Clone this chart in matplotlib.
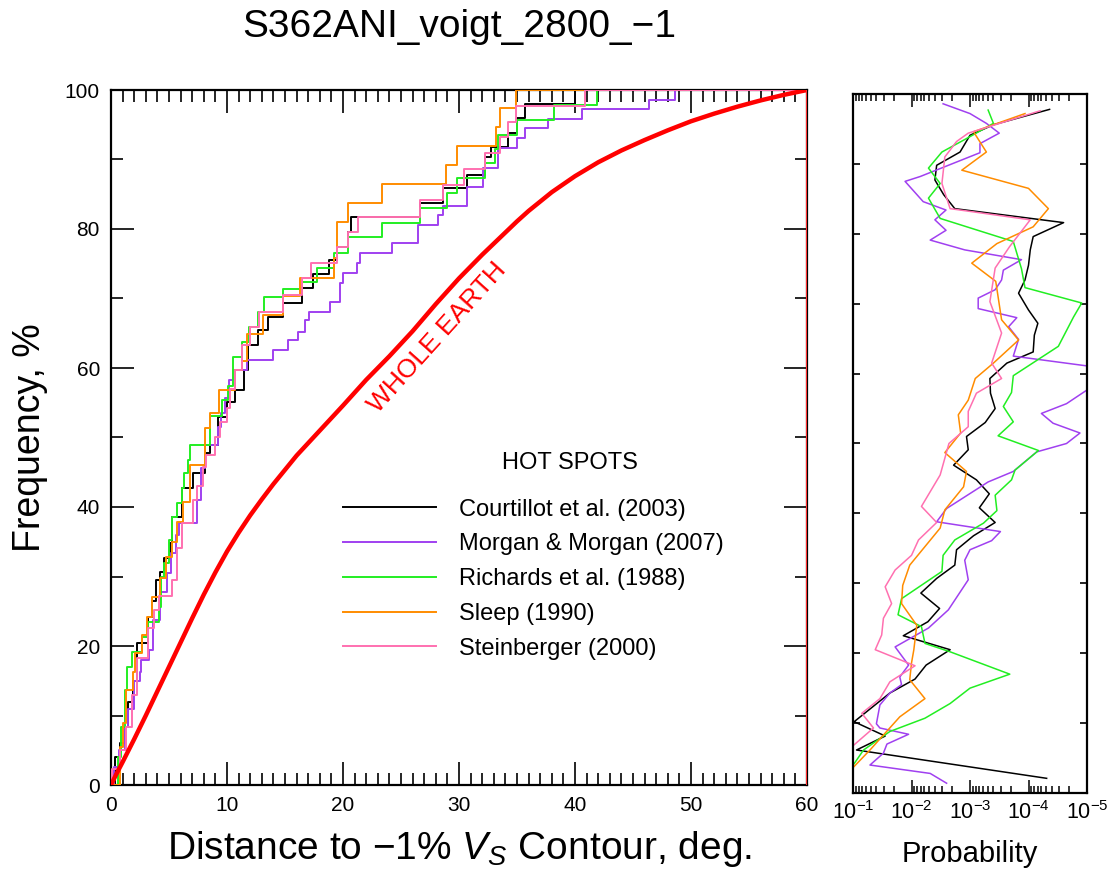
import numpy as np
import matplotlib
matplotlib.use("Agg")
import matplotlib.pyplot as plt
from matplotlib.ticker import MultipleLocator, LogLocator, NullFormatter
from matplotlib.lines import Line2D

plt.rcParams['font.family'] = ['Liberation Sans', 'DejaVu Sans']
plt.rcParams['mathtext.fontset'] = 'custom'
plt.rcParams['mathtext.rm'] = 'Liberation Sans'
plt.rcParams['mathtext.it'] = 'Liberation Sans:italic'
plt.rcParams['mathtext.bf'] = 'Liberation Sans:bold'

####data: cumulative distributions (distance deg, frequency %)####
earth_x = [0, 0.5, 1, 2, 3, 4, 5, 6, 7, 8, 9, 10, 11, 12, 13, 14, 16, 18, 20, 22, 24, 26, 28,
           30, 32, 34, 35, 36, 38, 40, 42, 44, 46, 48, 50, 52, 54, 56, 58, 60]
earth_y = [0, 1.7, 3.3, 6.6, 10, 13.5, 17, 20.5, 24, 27.4, 30.6, 33.6, 36.3, 38.8, 41.1, 43.3,
           47.4, 51.0, 54.6, 58.3, 61.7, 65.3, 69.2, 72.9, 76.3, 79.5, 81.1, 82.6, 85.3,
           87.6, 89.6, 91.3, 92.8, 94.2, 95.5, 96.6, 97.6, 98.5, 99.3, 100]

court_x = [0, 0.35, 0.8, 1.2, 1.5, 1.9, 2.2, 3.2, 3.5, 3.9, 4.2, 4.6, 5.1, 5.3, 6.1, 7.1, 8.1,
           8.5, 9.2, 10.0, 10.7, 11.5, 11.8, 12.7, 13.5, 14.8, 16.5, 17.4, 18.8, 19.5, 20.4,
           20.7, 26.6, 28.6, 30.7, 32.2, 32.8, 34.2, 35.0, 35.7, 40.0, 60]
court_y = [0, 4.0, 6.1, 8.3, 12, 15.0, 20.4, 24.2, 26.5, 29.5, 30.6, 32.7, 34.8, 38.6, 42.7,
           44.9, 47.8, 48.9, 53.0, 55.1, 56.8, 59.7, 63.3, 65.5, 67.3, 69.3, 71.5, 73.5, 75.5,
           77.4, 79.5, 81.7, 83.7, 85.9, 87.8, 90.4, 91.8, 93.8, 96.0, 98.0, 100, 100]

morgan_x = [0, 0.3, 0.7, 1.2, 1.5, 2.0, 2.5, 2.6, 3.3, 3.6, 4.2, 4.8, 5.2, 5.6, 5.9, 7.4, 7.8,
            8.1, 9.2, 9.5, 9.8, 10.2, 10.5, 11.7, 14.0, 15.3, 16.1, 16.7, 17.1, 18.9, 19.7,
            20.0, 21.2, 21.5, 24.2, 26.5, 28.2, 28.6, 30.7, 32.1, 33.4, 35.0, 35.7, 37.7,
            40.6, 46.4, 48.6, 60]
morgan_y = [0, 2.6, 5, 8.3, 11, 15, 16.3, 18, 19.4, 23.7, 27.8, 30.5, 33.4, 36, 37.7, 41.0,
            45.6, 48.9, 51.5, 53.5, 55.7, 58.3, 59.7, 61.2, 62.6, 64.0, 65.2, 66.9, 68.0,
            69.5, 72.2, 73.7, 75.1, 76.5, 78.0, 80.6, 82.0, 83.3, 86.0, 88.8, 91.7, 93.1,
            94.5, 95.8, 97.3, 98.6, 100, 100]

rich_x = [0, 0.6, 0.9, 1.2, 1.4, 1.8, 2.7, 3.2, 4.1, 4.3, 4.6, 5.0, 5.3, 5.7, 6.1, 6.3, 6.6,
          6.8, 8.5, 9.6, 10.1, 10.5, 11.3, 11.9, 12.7, 13.2, 14.8, 16.5, 17.8, 19.2, 20.4,
          23.4, 26.6, 29.0, 29.8, 32.2, 33.1, 33.4, 35.0, 38.2, 41.9, 60]
rich_y = [0, 4, 8.3, 13.7, 17, 19.1, 21.3, 23.5, 25.6, 30, 32, 35.3, 38.6, 40.6, 42.7, 44.9,
          46.8, 48.9, 53.1, 55.4, 57.4, 61.6, 63.7, 65.9, 68.1, 70.2, 71.3, 72.4, 74.4, 76.5,
          78.8, 80.9, 83.0, 85.2, 87.3, 89.5, 91.5, 93.5, 95.7, 97.8, 100, 100]

sleep_x = [0, 0.8, 1.0, 1.3, 1.9, 2.1, 2.7, 3.1, 3.5, 4.2, 4.7, 5.3, 5.7, 6.2, 6.8, 8.1, 8.5,
           9.3, 10.7, 11.3, 11.7, 13.1, 14.8, 16.3, 19.2, 19.5, 20.4, 23.4, 28.9, 29.8, 33.2,
           33.5, 34.9, 60]
sleep_y = [0, 5.5, 8.9, 13.7, 16.3, 19.0, 21.6, 24.2, 27.0, 29.8, 32.8, 35.0, 37.8, 40.7,
           46.0, 51.4, 53.5, 56.8, 59.7, 61, 64.9, 67.6, 70.4, 72.9, 75.8, 81.0, 83.7, 86.5,
           89.2, 91.9, 94.7, 97.4, 100, 100]

stein_x = [0, 0.1, 0.8, 1.3, 1.8, 2.2, 3.2, 3.7, 4.1, 5.3, 5.7, 6.1, 7.1, 7.4, 7.9, 8.2, 9.0,
           9.4, 10.0, 10.3, 10.7, 11.3, 12.0, 12.8, 14.8, 16.5, 17.2, 19.5, 20.4, 21.3, 26.6,
           28.6, 30.4, 32.2, 33.5, 34.2, 34.9, 40.9, 60]
stein_y = [0, 2.3, 5, 8.3, 13, 18.3, 22.6, 25.2, 27.2, 29.5, 34.1, 37.7, 41.0, 43, 45.8, 47.5,
           50.1, 52.2, 54.2, 57, 59.7, 63.3, 65.9, 68.0, 70.5, 72.9, 75.1, 77.4, 79.6, 81.7,
           84.2, 86.3, 88.6, 91.0, 93.2, 95.4, 97.7, 100, 100]

####data: probability panel (level, log10 probability)####
court_v = [2.1, 6.15, 8.15, 10.2, 14.3, 16.3, 18.3, 20.5, 22.5, 24.5, 26.4, 28.6, 30.7, 32.6,
           34.8, 36.8, 38.7, 40.8, 42.8, 44.8, 46.9, 49.1, 51.0, 53.0, 55.0, 57.2, 59.3, 61.5,
           63.1, 65.5, 67.2, 69.1, 71.5, 73.4, 75.5, 77.7, 79.6, 81.6, 83.6, 85.6, 87.7, 89.8,
           91.7, 94.1, 95.6, 97.8]
court_lp = [-4.31, -1.06, -1.55, -1.02, -1.63, -2.06, -2.25, -2.66, -1.86, -2.28, -2.48,
            -2.16, -2.43, -2.74, -2.77, -3.06, -3.43, -3.16, -3.33, -3.11, -2.72, -2.97,
            -2.94, -3.26, -3.43, -3.35, -3.34, -3.63, -4.08, -4.10, -4.16, -4.00, -3.83,
            -3.94, -4.00, -4.03, -4.08, -4.60, -2.74, -2.55, -2.40, -2.43, -2.83, -3.00,
            -3.40, -4.36]

morgan_v = [1.4, 2.8, 4.0, 5.7, 7.0, 8.4, 9.3, 9.9, 12.6, 14.3, 15.5, 16.6, 18.3, 20.9, 23.6,
            26.2, 30.5, 33.3, 34.8, 36.1, 37.4, 38.8, 40.7, 44.5, 46.0, 48.8, 50.0, 51.5,
            52.9, 54.3, 55.7, 57.6, 59.3, 61.1, 62.5, 64.9, 66.7, 68.0, 69.3, 70.8, 72.0,
            73.4, 74.8, 76.3, 77.7, 79.1, 80.5, 82.0, 83.4, 84.6, 87.5, 88.2, 91.6, 92.9,
            94.4, 95.8, 97.2, 98.6]
morgan_lp = [-2.60, -2.32, -1.29, -1.52, -1.58, -1.95, -1.46, -1.40, -1.46, -1.63, -1.83,
             -1.80, -1.95, -1.72, -2.29, -2.63, -2.97, -2.91, -3.00, -3.37, -3.52, -2.43,
             -2.60, -3.31, -3.74, -4.14, -4.65, -4.88, -4.42, -4.22, -4.65, -4.99, -5.4,
             -5.00, -3.74, -3.83, -3.66, -3.80, -3.14, -3.14, -3.43, -3.54, -3.57, -3.88,
             -2.91, -2.32, -2.59, -2.40, -2.59, -2.20, -1.89, -2.15, -3.17, -3.17, -3.50,
             -3.28, -3.00, -2.54]

rich_v = [4.2, 6.15, 8.8, 10.7, 12.8, 15.0, 17.0, 20.2, 21.4, 23.8, 25.5, 27.8, 31.7, 34.0,
          36.2, 38.6, 40.4, 42.6, 44.8, 46.2, 49.0, 51.1, 53.1, 55.3, 57.3, 59.7, 63.9, 68.1,
          70.1, 72.3, 75.0, 78.9, 82.2, 85.1, 87.2, 89.4, 91.7, 93.9, 95.8, 97.7]
rich_lp = [-1.02, -1.18, -1.63, -2.23, -2.66, -3.00, -3.68, -2.66, -2.23, -2.17, -1.77,
           -1.83, -2.52, -2.54, -2.74, -3.23, -3.46, -3.43, -3.71, -3.77, -4.17, -3.48,
           -3.74, -3.57, -3.71, -3.74, -4.51, -4.77, -4.91, -3.94, -3.88, -3.74, -2.49,
           -2.29, -2.49, -2.29, -2.52, -3.00, -3.40, -3.31]

sleep_v = [3.8, 6.15, 10.9, 13.5, 16.2, 18.6, 20.5, 24.0, 27.1, 29.7, 32.6, 37.9, 40.5, 43.8,
           46.0, 48.7, 51.5, 54.1, 56.2, 59.3, 61.5, 64.8, 67.7, 73.2, 75.8, 78.6, 81.0, 83.6,
           86.5, 89.1, 91.7, 94.6, 97.2]
sleep_lp = [-1.02, -1.29, -1.80, -2.23, -1.97, -2.00, -2.04, -2.09, -1.83, -1.85, -1.97,
            -2.49, -2.57, -2.89, -2.94, -2.57, -2.84, -2.80, -2.97, -3.09, -3.40, -3.83,
            -3.54, -3.44, -3.03, -3.46, -4.08, -4.34, -4.00, -2.86, -3.28, -3.06, -3.94]

stein_v = [6.9, 9.3, 11.4, 13.5, 15.9, 18.2, 20.5, 22.6, 25.0, 27.1, 29.5, 31.9, 34.0, 36.2,
           38.7, 41.0, 45.5, 50.0, 52.4, 54.6, 57.2, 59.3, 61.5, 65.8, 70.3, 75.1, 78.2, 82.0,
           83.6, 87.2, 91.0, 93.2, 94.4, 97.6]
stein_lp = [-1.02, -1.35, -1.15, -1.46, -1.63, -2.06, -1.38, -1.49, -1.52, -1.66, -1.55,
            -1.72, -2.00, -2.12, -2.43, -2.17, -2.49, -2.64, -2.97, -2.97, -3.11, -3.54,
            -3.37, -3.54, -3.34, -3.43, -3.68, -4.03, -2.66, -2.52, -2.57, -2.77, -2.97,
            -4.20]

names = ['Courtillot et al. (2003)', 'Morgan & Morgan (2007)', 'Richards et al. (1988)',
         'Sleep (1990)', 'Steinberger (2000)']
colors = ['#000000', '#a040f0', '#22ee22', '#ff8c00', '#ff70b0']
cdf_x = [court_x, morgan_x, rich_x, sleep_x, stein_x]
cdf_y = [court_y, morgan_y, rich_y, sleep_y, stein_y]
prob_v = [court_v, morgan_v, rich_v, sleep_v, stein_v]
prob_lp = [court_lp, morgan_lp, rich_lp, sleep_lp, stein_lp]

fig = plt.figure(figsize=(11.11, 8.71), dpi=100)
ax = fig.add_axes([111/1111, 86/871, 696/1111, 695/871])
ax2 = fig.add_axes([853/1111, 78/871, 234/1111, 699/871])

####left panel####
for i in range(len(names)):
    ax.plot(cdf_x[i], cdf_y[i], drawstyle='steps-post', color=colors[i], lw=1.4, zorder=3)
ax.plot(earth_x, earth_y, color='#ff0000', lw=3.2, zorder=4)
ax.axvline(60, color='#ff3030', lw=1.5, zorder=5)

ax.set_xlim(0, 60)
ax.set_ylim(0, 100)
ax.xaxis.set_major_locator(MultipleLocator(10))
ax.xaxis.set_minor_locator(MultipleLocator(1))
ax.yaxis.set_major_locator(MultipleLocator(20))
ax.yaxis.set_minor_locator(MultipleLocator(10))
ax.tick_params(which='both', direction='in', top=True, right=True, width=1.2)
ax.tick_params(which='major', length=16.5, labelsize=15, pad=8)
ax.tick_params(which='minor', length=8.5)
for s in ax.spines.values():
    s.set_linewidth(1.6)

ax.set_title('S362ANI_voigt_2800_\u22121', fontsize=28, pad=38)
ax.set_xlabel('Distance to \u22121% $V_S$ Contour, deg.', fontsize=28, labelpad=10)
ax.set_ylabel('Frequency, %', fontsize=27, labelpad=12)

ax.text(28.1, 64.3, 'WHOLE EARTH', color='#ff0000', fontsize=19, rotation=48,
        ha='center', va='center', rotation_mode='anchor')

handles = [Line2D([], [], color=c, lw=1.4) for c in colors]
ax.legend(handles, names, loc='upper left', bbox_to_anchor=(0.333, 0.412), frameon=False,
          fontsize=17, handlelength=3.95, handletextpad=0.97, labelspacing=0.54,
          borderpad=0, borderaxespad=0)
ax.text(0.659, 0.463, 'HOT SPOTS', transform=ax.transAxes, fontsize=17,
        ha='center', va='center')

####right panel####
for i in range(len(names)):
    ax2.plot(10.0 ** np.array(prob_lp[i]), prob_v[i], color=colors[i], lw=1.1)
ax2.set_xscale('log')
ax2.set_xlim(1e-1, 1e-5)
ax2.set_ylim(0, 100)
ax2.yaxis.set_major_locator(MultipleLocator(10))
ax2.set_yticklabels([])
ax2.xaxis.set_major_locator(LogLocator(base=10, numticks=10))
ax2.xaxis.set_minor_locator(LogLocator(base=10, subs=np.arange(2, 10), numticks=20))
ax2.xaxis.set_minor_formatter(NullFormatter())
ax2.tick_params(axis='y', which='both', direction='in', left=True, right=True,
                length=5, width=1.2)
ax2.tick_params(axis='x', which='both', direction='in', top=True, bottom=True, width=1.1)
ax2.tick_params(axis='x', which='major', length=9.5, labelsize=15.5, pad=6)
ax2.tick_params(axis='x', which='minor', length=5)
for s in ax2.spines.values():
    s.set_linewidth(1.6)
ax2.set_xlabel('Probability', fontsize=21, labelpad=11)

fig.savefig('out.png', dpi=100)
